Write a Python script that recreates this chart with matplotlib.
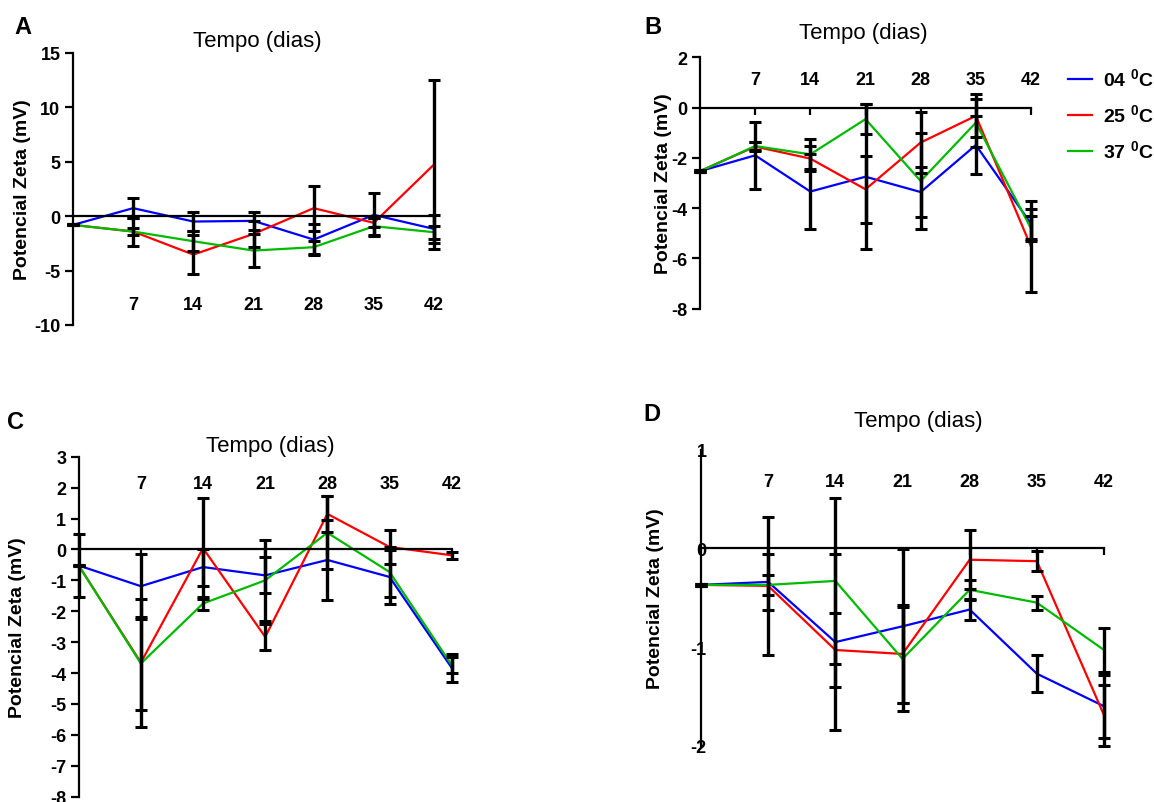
import numpy as np
import matplotlib
matplotlib.use('Agg')
import matplotlib.pyplot as plt
from matplotlib.lines import Line2D

plt.rcParams['font.family'] = ['Liberation Sans', 'DejaVu Sans']
plt.rcParams['mathtext.fontset'] = 'custom'
plt.rcParams['mathtext.rm'] = 'Liberation Sans'
plt.rcParams['mathtext.bf'] = 'Liberation Sans:bold'

dias = [0, 7, 14, 21, 28, 35, 42]
rotulos = ['04', '25', '37']
cores = ['#0000ff', '#ff0000', '#00bb00']

# painel A
a_04 = [-0.8, 0.74, -0.49, -0.43, -2.15, 0.12, -1.17]
a_25 = [-0.8, -1.41, -3.53, -1.63, 0.74, -0.61, 4.75]
a_37 = [-0.8, -1.41, -2.3, -3.16, -2.85, -0.92, -1.47]
a_04_dp = [0.05, 0.95, 0.86, 0.86, 1.41, 1.98, 1.27]
a_25_dp = [0.05, 1.29, 1.8, 1.2, 2.08, 0.4, 7.8]
a_37_dp = [0.05, 0.3, 0.9, 1.54, 0.6, 0.8, 0.6]

# painel B
b_04 = [-2.53, -1.9, -3.34, -2.75, -3.36, -1.49, -4.62]
b_25 = [-2.53, -1.55, -2.03, -3.25, -1.39, -0.33, -5.53]
b_37 = [-2.53, -1.53, -1.86, -0.46, -2.92, -0.6, -4.81]
b_04_dp = [0.03, 1.32, 1.5, 2.89, 1.0, 1.14, 0.6]
b_25_dp = [0.03, 0.18, 0.5, 1.33, 1.23, 0.86, 1.8]
b_37_dp = [0.03, 0.15, 0.6, 0.6, 1.9, 0.96, 0.5]

# painel C
c_04 = [-0.52, -1.19, -0.57, -0.84, -0.34, -0.89, -3.83]
c_25 = [-0.52, -3.66, 0.04, -2.83, 1.15, 0.08, -0.19]
c_37 = [-0.52, -3.69, -1.75, -1.0, 0.54, -0.73, -3.74]
c_04_dp = [1.03, 1.05, 0.6, 0.58, 1.28, 0.86, 0.45]
c_25_dp = [0.03, 2.07, 1.64, 0.43, 0.59, 0.55, 0.12]
c_37_dp = [0.03, 1.5, 0.22, 1.3, 1.18, 0.8, 0.25]

# painel D
d_04 = [-0.37, -0.34, -0.95, -0.79, -0.62, -1.27, -1.6]
d_25 = [-0.37, -0.38, -1.03, -1.07, -0.115, -0.13, -1.69]
d_37 = [-0.37, -0.37, -0.33, -1.12, -0.42, -0.55, -1.03]
d_04_dp = [0.01, 0.28, 0.89, 0.78, 0.11, 0.19, 0.32]
d_25_dp = [0.01, 0.7, 0.37, 0.5, 0.3, 0.1, 0.31]
d_37_dp = [0.01, 0.1, 0.84, 0.53, 0.1, 0.07, 0.22]

W, H = 1154, 803
fig = plt.figure(figsize=(W / 100, H / 100), dpi=100)


def eixo(x0, x1, ytop, ybot):
    return fig.add_axes([x0 / W, 1 - ybot / H, (x1 - x0) / W, (ybot - ytop) / H])


def painel(ax, series, dps, ylim, yticks, ylab_y, letra, pos_letra, pos_tit,
           ylab_x, ypad=3, ytick_len=6):
    for s, c in zip(series, cores):
        ax.plot(dias, s, color=c, lw=1.6, zorder=2, clip_on=False)
    for s, d in zip(series, dps):
        ax.errorbar(dias, s, yerr=d, fmt='none', ecolor='black', elinewidth=2.4,
                    capsize=4, capthick=2.2, zorder=3, clip_on=False)
    ax.set_xlim(0, 42)
    ax.set_ylim(*ylim)
    ax.spines['top'].set_visible(False)
    ax.spines['right'].set_visible(False)
    ax.spines['left'].set_linewidth(1.6)
    ax.spines['bottom'].set_linewidth(1.6)
    ax.spines['bottom'].set_position(('data', 0))
    ax.set_yticks(yticks)
    ax.set_yticklabels([str(v) for v in yticks])
    ax.tick_params(axis='y', direction='out', length=ytick_len, width=1.6,
                   labelsize=13, pad=ypad)
    ax.set_xticks(dias[1:])
    ax.set_xticklabels([])
    ax.tick_params(axis='x', direction='out', length=5, width=1.6)
    for t in ax.get_yticklabels():
        t.set_fontweight('bold')
    for d in dias[1:]:
        ax.text(d, ylab_y, str(d), ha='center', va='center', fontsize=13,
                fontweight='bold')
    ax.set_ylabel('Potencial Zeta (mV)', fontsize=14, fontweight='bold')
    bb = ax.get_position()
    # o rótulo fica ancorado pela borda direita
    ax.yaxis.set_label_coords(((ylab_x + 9) / W - bb.x0) / bb.width, 0.5)
    fig.text(pos_letra[0] / W, 1 - pos_letra[1] / H, letra, fontsize=17,
             fontweight='bold', ha='center', va='center')
    fig.text(pos_tit[0] / W, 1 - pos_tit[1] / H, 'Tempo (dias)', fontsize=16,
             ha='center', va='center')


axA = eixo(73, 434, 54, 326)
painel(axA, [a_04, a_25, a_37], [a_04_dp, a_25_dp, a_37_dp], (-10, 15),
       [-10, -5, 0, 5, 10, 15], -8.1, 'A', (23, 27), (257, 42), 22)

axB = eixo(700, 1031, 58.3, 309.7)
painel(axB, [b_04, b_25, b_37], [b_04_dp, b_25_dp, b_37_dp], (-8, 2),
       [-8, -6, -4, -2, 0, 2], 1.1, 'B', (653, 28), (863, 33), 663)

axC = eixo(78.7, 451.7, 457.7, 797.7)
painel(axC, [c_04, c_25, c_37], [c_04_dp, c_25_dp, c_37_dp], (-8, 3),
       list(range(-8, 4)), 2.12, 'C', (15, 423), (270, 447), 17)

axD = eixo(701, 1104, 450.7, 746.7)
painel(axD, [d_04, d_25, d_37], [d_04_dp, d_25_dp, d_37_dp], (-2, 1),
       [-2, -1, 0, 1], 0.68, 'D', (652, 415), (918, 422), 655,
       ypad=-4, ytick_len=0)

alcas = [Line2D([], [], color=c, lw=1.6) for c in cores]
textos = [r + r' $^{\mathbf{0}}$C' for r in rotulos]
leg = fig.legend(alcas, textos, loc='upper left',
                 bbox_to_anchor=(1068 / W, 1 - 68 / H), frameon=False,
                 prop={'size': 14, 'weight': 'bold'}, handlelength=1.25,
                 handletextpad=0.55, labelspacing=0.7, borderpad=0,
                 borderaxespad=0)

fig.savefig('out.png', dpi=100)
